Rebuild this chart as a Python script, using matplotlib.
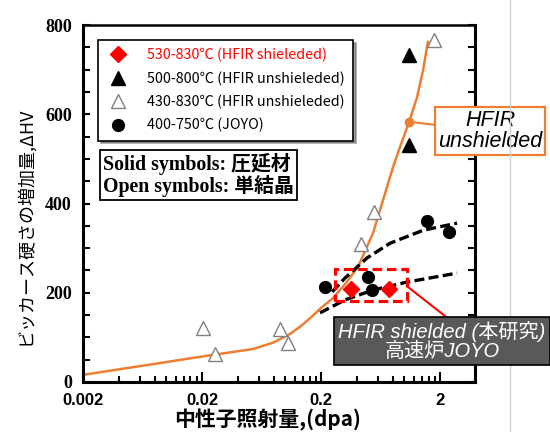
import matplotlib
matplotlib.use("Agg")
import matplotlib.pyplot as plt
from matplotlib.lines import Line2D
from matplotlib.patches import Rectangle
from matplotlib.ticker import FixedLocator, NullFormatter

# --- データ ---
sh_dpa = [0.357, 0.745]
sh_hv = [208, 208]

un_solid_dpa = [1.1, 1.1]
un_solid_hv = [733, 531]

un_open_dpa = [0.0204, 0.0257, 0.0904, 0.1057, 0.434, 0.557, 1.78]
un_open_hv = [121, 63, 119, 87, 309, 381, 766]

joyo_dpa = [0.216, 0.497, 0.537, 1.556, 2.38]
joyo_hv = [213, 235, 206, 361, 336]

curve_dpa = [0.002, 0.0073, 0.0168, 0.0537, 0.079, 0.110, 0.135, 0.162, 0.2,
             0.252, 0.32, 0.409, 0.547, 0.664, 0.806, 0.922, 1.1, 1.28, 1.44, 1.58]
curve_hv = [16, 39, 54, 74, 88, 108, 125, 143, 166,
            188, 220, 258, 334, 408, 482, 527, 583, 638, 699, 762]

fit_up_dpa = [0.248, 0.318, 0.487, 0.76, 1.44, 2.78]
fit_up_hv = [202, 233, 278, 311, 340, 356]
fit_lo_dpa = [0.196, 0.318, 0.547, 1.057, 2.78]
fit_lo_hv = [155, 184, 206, 224, 244]

xticks = [0.002, 0.02, 0.2, 2]
xtick_labels = ['0.002', '0.02', '0.2', '2']
yticks = [0, 200, 400, 600, 800]

legend_labels = ['530-830\u2103 (HFIR shieleded)',
                 '500-800\u2103 (HFIR unshieleded)',
                 '430-830\u2103 (HFIR unshieleded)',
                 '400-750\u2103 (JOYO)']

orange = '#ED7D31'
cjk = ['Noto Sans CJK JP', 'DejaVu Sans']

fig = plt.figure(figsize=(5.5, 4.32), dpi=100)
ax = fig.add_axes([83 / 550, 1 - 382 / 432, 392 / 550, 357 / 432])

ax.plot(curve_dpa, curve_hv, color=orange, lw=1.8, zorder=2)
ax.plot(fit_up_dpa, fit_up_hv, color='black', lw=2.4, dashes=(3, 1.3), zorder=3)
ax.plot(fit_lo_dpa, fit_lo_hv, color='black', lw=2.4, dashes=(3, 1.3), zorder=3)

h1, = ax.plot(sh_dpa, sh_hv, 'D', color='#FF0000', ms=8.5, ls='none', zorder=5)
h2, = ax.plot(un_solid_dpa, un_solid_hv, '^', color='black', ms=10, ls='none', zorder=5)
h3, = ax.plot(un_open_dpa, un_open_hv, '^', mfc='white', mec='#808080', mew=1,
              ms=10.5, ls='none', zorder=4)
h4, = ax.plot(joyo_dpa, joyo_hv, 'o', color='black', ms=8.5, ls='none', zorder=5)

ax.set_xscale('log')
ax.set_xlim(0.002, 3.93)
ax.set_ylim(0, 800)

ax.xaxis.set_major_locator(FixedLocator(xticks))
ax.set_xticklabels(xtick_labels)
minor_x = [k * d for d in [0.001, 0.01, 0.1, 1] for k in range(4, 20, 2)]
ax.xaxis.set_minor_locator(FixedLocator(minor_x))
ax.xaxis.set_minor_formatter(NullFormatter())
ax.set_yticks(yticks)
ax.yaxis.set_minor_locator(FixedLocator(list(range(50, 800, 50))))

ax.tick_params(axis='x', which='major', direction='in', length=7, width=1.5, pad=8)
ax.tick_params(axis='x', which='minor', direction='in', length=4, width=1.5)
ax.tick_params(axis='y', which='both', direction='in', length=5, width=1.5,
               right=True, pad=8)
for lab in ax.get_xticklabels():
    lab.set_fontfamily('Liberation Sans')
    lab.set_fontweight('bold')
    lab.set_fontsize(12)
for lab in ax.get_yticklabels():
    lab.set_fontfamily('Liberation Serif')
    lab.set_fontweight('bold')
    lab.set_fontsize(13)

for s in ax.spines.values():
    s.set_linewidth(2.2)
ax.spines['top'].set_linewidth(1.8)

ax.set_xlabel('中性子照射量,(dpa)', family=cjk, fontweight='bold', fontsize=15)
ax.xaxis.set_label_coords((268 - 83) / 392, -(409 - 382) / 357)
ax.set_ylabel('ビッカース硬さの増加量,ΔHV', family=cjk, fontsize=13)
ax.yaxis.set_label_coords((34 - 83) / 392, (382 - 226) / 357)

leg = ax.legend([h1, h2, h3, h4], legend_labels, loc='upper left',
                bbox_to_anchor=(98 / 550, 1 - 40 / 432), bbox_transform=fig.transFigure,
                prop={'family': cjk, 'size': 10.3}, frameon=True, fancybox=False,
                edgecolor='black', framealpha=1, shadow=True, handletextpad=1.2,
                labelspacing=0.62, borderpad=0.55, borderaxespad=0, handlelength=1.7)
leg.get_frame().set_linewidth(1.2)
leg.get_texts()[0].set_color('#FF0000')

fig.text(103 / 550, 1 - 175 / 432, 'Solid symbols: 圧延材\nOpen symbols: 単結晶',
         family=['Liberation Serif', 'Noto Sans CJK JP'], fontweight='bold', fontsize=14.3,
         va='center', ha='left', linespacing=0.95,
         bbox=dict(boxstyle='square,pad=0.15', fc='white', ec='black', lw=1.3))

# HFIR unshielded の注記
ax.plot([1.1], [583], 'o', color=orange, ms=6, zorder=6)
ax.annotate('HFIR\nunshielded', xy=(1.1, 583), xytext=(490, 432 - 131),
            textcoords='figure pixels', ha='center', va='center',
            fontsize=15.5, style='italic', family='Liberation Sans', linespacing=1.0,
            annotation_clip=False,
            bbox=dict(boxstyle='square,pad=0.12', fc='white', ec=orange, lw=1.6),
            arrowprops=dict(arrowstyle='-', color=orange, lw=1.5, shrinkA=0, shrinkB=0))

# 本研究の範囲 (赤い点線枠)
x0 = 10 ** (252 / 119) * 0.002
x1 = 10 ** (324 / 119) * 0.002
ax.add_patch(Rectangle((x0, 181), x1 - x0, 72, fill=False, ec='#FF0000', lw=2.3,
                       ls=(0, (3, 1.5)), zorder=6))
fig.add_artist(Line2D([408 / 550, 445 / 550], [1 - 287 / 432, 1 - 316 / 432],
                      color='#FF0000', lw=1.5))
fig.text(442 / 550, 1 - 341 / 432, 'HFIR shielded (本研究)\n高速炉JOYO', ha='center',
         va='center', color='white', fontsize=14.5, style='italic',
         family=['Liberation Sans', 'Noto Sans CJK JP'], linespacing=1.05,
         bbox=dict(boxstyle='square,pad=0.2', fc='#595959', ec='black', lw=1.2))

fig.add_artist(Line2D([510 / 550, 510 / 550], [0, 1], color='#D0D0D0', lw=1))

fig.savefig('out.png', dpi=100)
